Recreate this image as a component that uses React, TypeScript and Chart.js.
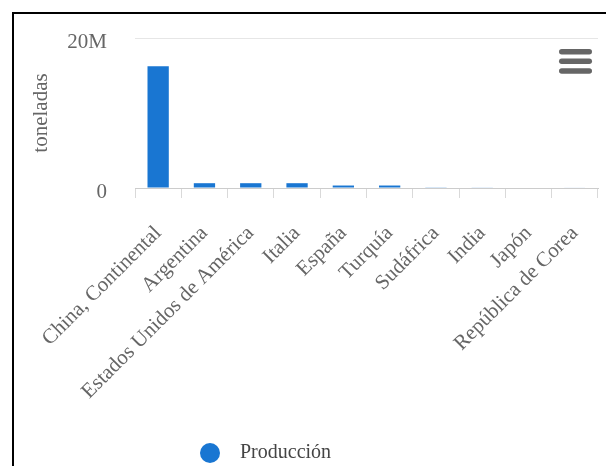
import React, { useEffect, useRef } from 'react';
import { Chart, registerables } from 'chart.js';

Chart.register(...registerables);

const categories = [
  'China, Continental',
  'Argentina',
  'Estados Unidos de América',
  'Italia',
  'España',
  'Turquía',
  'Sudáfrica',
  'India',
  'Japón',
  'República de Corea',
];
const production = [16250000, 640000, 640000, 640000, 330000, 330000, 90000, 80000, 70000, 60000];
const yTickValues = [0, 20000000];
const yTickLabels = ['0', '20M'];
const seriesName = 'Producción';
const yAxisTitle = 'toneladas';

const BAR_COLOR = '#1976D2';
const FONT = '"Liberation Serif", "Times New Roman", serif';

function makeDot(color: string, size: number) {
  const c = document.createElement('canvas');
  c.width = size;
  c.height = size;
  const ctx = c.getContext('2d')!;
  ctx.fillStyle = color;
  ctx.beginPath();
  ctx.arc(size / 2, size / 2, size / 2, 0, Math.PI * 2);
  ctx.fill();
  return c;
}

export default function App() {
  const ref = useRef<HTMLCanvasElement | null>(null);

  useEffect(() => {
    document.documentElement.style.overflow = 'hidden';
    document.body.style.overflow = 'hidden';
    const canvas = ref.current!;
    const dot = makeDot(BAR_COLOR, 20);

    const menuPlugin = {
      id: 'menuIcon',
      afterLayout(chart: any) {
        const lg = chart.legend;
        if (lg) {
          const dx = 166 - lg.left;
          lg.left += dx;
          lg.right += dx;
        }
      },
      afterDraw(chart: any) {
        const ctx = chart.ctx;
        ctx.save();
        ctx.fillStyle = '#666666';
        const ys = [37.7, 47.3, 57];
        for (const y of ys) {
          const x = 545, w = 33, h = 5.5, r = 2.75;
          ctx.beginPath();
          ctx.moveTo(x + r, y - h / 2);
          ctx.lineTo(x + w - r, y - h / 2);
          ctx.arc(x + w - r, y, r, -Math.PI / 2, Math.PI / 2);
          ctx.lineTo(x + r, y + h / 2);
          ctx.arc(x + r, y, r, Math.PI / 2, Math.PI * 1.5);
          ctx.closePath();
          ctx.fill();
        }
        ctx.restore();
      },
    };

    const chart = new Chart(canvas, {
      type: 'bar',
      data: {
        labels: categories,
        datasets: [
          {
            label: seriesName,
            data: production,
            backgroundColor: BAR_COLOR,
            borderWidth: 0,
            barPercentage: 0.46,
            categoryPercentage: 1,
            pointStyle: dot as any,
          },
        ],
      },
      options: {
        animation: false,
        responsive: false,
        devicePixelRatio: 1,
        layout: { padding: { top: 24, left: 0, right: 56, bottom: 41 } },
        plugins: {
          tooltip: { enabled: false },
          legend: {
            display: true,
            position: 'bottom',
            align: 'start',
            labels: {
              usePointStyle: true,
              pointStyleWidth: 40,
              boxHeight: 14,
              padding: 10,
              color: '#444444',
              font: { family: FONT, size: 20 },
            },
          },
        },
        scales: {
          x: {
            afterFit: (s: any) => {
              s.height = 245;
            },
            grid: {
              display: true,
              drawOnChartArea: false,
              drawTicks: true,
              tickLength: 10,
              color: '#d9d9d9',
              offset: true,
            },
            border: { display: true, color: '#cccccc', width: 1 },
            ticks: {
              autoSkip: false,
              maxRotation: 45,
              minRotation: 45,
              padding: 23,
              color: '#666666',
              font: { family: FONT, size: 21 },
            },
          },
          y: {
            min: 0,
            max: 20000000,
            afterFit: (s: any) => {
              s.width = 121;
            },
            afterBuildTicks: (s: any) => {
              s.ticks = yTickValues.map((v) => ({ value: v }));
            },
            grid: {
              display: true,
              drawTicks: true,
              tickLength: 25,
              tickColor: 'rgba(0,0,0,0)',
              color: '#e6e6e6',
            },
            border: { display: false },
            ticks: {
              padding: 3,
              labelOffset: 4,
              color: '#666666',
              font: { family: FONT, size: 21 },
              callback: (v: any) => {
                const i = yTickValues.indexOf(Number(v));
                return i >= 0 ? yTickLabels[i] : '';
              },
            },
            title: {
              display: true,
              text: yAxisTitle,
              color: '#666666',
              font: { family: FONT, size: 21 },
              padding: { top: 15, bottom: 0 },
            },
          },
        },
      },
      plugins: [menuPlugin],
    } as any);

    return () => chart.destroy();
  }, []);

  return (
    <div
      style={{
        margin: '4px 0 0 4px',
        border: '2px solid #000',
        width: 660,
        height: 520,
      }}
    >
      <canvas ref={ref} width={640} height={500} style={{ display: 'block', width: 640, height: 500 }} />
    </div>
  );
}
